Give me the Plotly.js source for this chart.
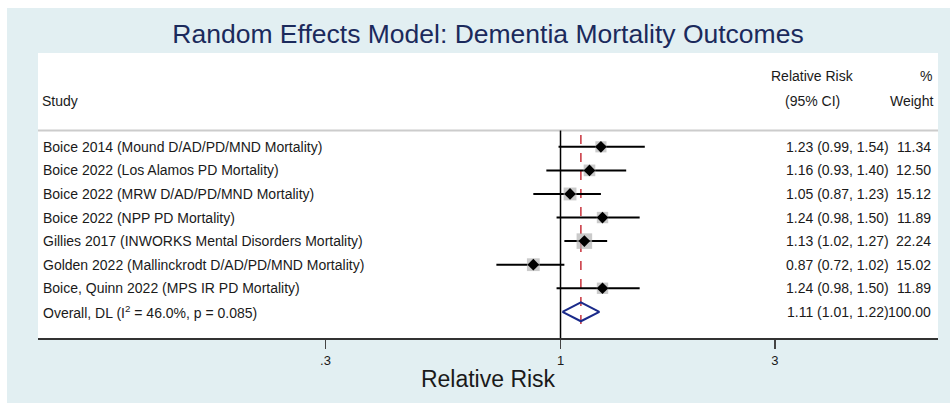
<!DOCTYPE html>
<html><head><meta charset="utf-8">
<script src="https://cdn.plot.ly/plotly-3.0.1.min.js"></script>
<style>
html,body{margin:0;padding:0;background:#ffffff;width:950px;height:403px;overflow:hidden}
#chart{position:absolute;left:7px;top:8px;width:943px;height:395px}
</style>
</head><body><div id="chart"></div>
<script>
// ---- data ----
const studies = [
  'Boice 2014 (Mound D/AD/PD/MND Mortality)',
  'Boice 2022 (Los Alamos PD Mortality)',
  'Boice 2022 (MRW D/AD/PD/MND Mortality)',
  'Boice 2022 (NPP PD Mortality)',
  'Gillies 2017 (INWORKS Mental Disorders Mortality)',
  'Golden 2022 (Mallinckrodt D/AD/PD/MND Mortality)',
  'Boice, Quinn 2022 (MPS IR PD Mortality)'
];
const rr     = [1.23, 1.16, 1.05, 1.24, 1.13, 0.87, 1.24];
const lower  = [0.99, 0.93, 0.87, 0.98, 1.02, 0.72, 0.98];
const upper  = [1.54, 1.40, 1.23, 1.50, 1.27, 1.02, 1.50];
const weights = [11.34, 12.50, 15.12, 11.89, 22.24, 15.02, 11.89];

const overallLabel = 'Overall, DL (I<sup>2</sup> = 46.0%, p = 0.085)';
const overallRR = [1.11];
const overallLower = [1.01];
const overallUpper = [1.22];
const overallWeight = [100.00];

const tickVals = [0.3, 1, 3];
const tickText = ['.3', '1', '3'];

const chartTitle = 'Random Effects Model: Dementia Mortality Outcomes';
const axisTitle = 'Relative Risk';
const headerStudy = 'Study';
const headerRR = ['Relative Risk', '(95% CI)'];
const headerW = ['%', 'Weight'];

// ---- layout helpers ----
const FONT = 'Liberation Sans, Arial, sans-serif';
const TXT = '#1a1a1a';
const rows = studies.map((_, i) => i + 1);
const oRow = studies.length + 1;
const fmt = v => v.toFixed(2);
const ciText = (m, l, u) => `${fmt(m)} (${fmt(l)}, ${fmt(u)})`;

// CI lines
const ciX = [], ciY = [];
rows.forEach((r, i) => { ciX.push(lower[i], upper[i], null); ciY.push(r, r, null); });

const traces = [
  { // overall dashed line
    x: [overallRR[0], overallRR[0]], y: [0.5, 8.75], mode: 'lines',
    line: { color: '#c8323c', width: 1.5, dash: 'dash' }, hoverinfo: 'skip'
  },
  {
    x: ciX, y: ciY, mode: 'lines', line: { color: '#000000', width: 2 }, hoverinfo: 'skip'
  },
  {
    x: rr, y: rows, mode: 'markers',
    marker: { symbol: 'square', color: '#b4b4b4', size: weights.map(w => 3.3 * Math.sqrt(w)), line: { width: 0 } }
  },
  {
    x: rr, y: rows, mode: 'markers',
    marker: { symbol: 'diamond', color: '#000000', size: 9, line: { width: 0 } }
  },
  {
    x: [overallLower[0], overallRR[0], overallUpper[0], overallRR[0], overallLower[0]],
    y: [oRow, oRow - 0.4, oRow, oRow + 0.4, oRow],
    mode: 'lines', line: { color: '#1a2a8a', width: 2 }, hoverinfo: 'skip'
  }
];

const ann = [];
const addText = (text, x, y, xanchor, size) => ann.push({
  text, x, y, xref: 'paper', yref: 'y', xanchor, yanchor: 'middle', showarrow: false,
  font: { family: FONT, size: size || 14, color: TXT }
});
rows.forEach((r, i) => {
  addText(studies[i], 0.003, r, 'left');
  addText(ciText(rr[i], lower[i], upper[i]), 0.948, r, 'right');
  addText(fmt(weights[i]), 0.9944, r, 'right');
});
addText(overallLabel, 0.003, oRow, 'left');
addText(ciText(overallRR[0], overallLower[0], overallUpper[0]), 0.948, oRow, 'right');
addText(fmt(overallWeight[0]), 0.9944, oRow, 'right');
addText(headerStudy, 0.002, -0.94, 'left');
addText(headerRR[0], 0.86, -2.0, 'center');
addText(headerRR[1], 0.86, -0.94, 'center');
addText(headerW[0], 0.987, -2.0, 'center');
addText(headerW[1], 0.9967, -0.94, 'right');

const layout = {
  width: 943, height: 395,
  margin: { l: 31, r: 12, t: 45, b: 65, pad: 0 },
  paper_bgcolor: '#e2eff2', plot_bgcolor: '#ffffff',
  showlegend: false,
  font: { family: FONT, color: TXT },
  title: {
    text: chartTitle, x: 0.5, xref: 'paper', xanchor: 'center',
    y: 0.935, yref: 'container', yanchor: 'middle',
    font: { family: FONT, size: 26.5, color: '#1b2a5c' }
  },
  xaxis: {
    type: 'log', range: [-1.1624, 0.8398], tickvals: tickVals, ticktext: tickText,
    ticks: 'outside', ticklen: 9, tickwidth: 1.5, tickcolor: '#444444',
    showline: true, linecolor: '#333333', linewidth: 2, showgrid: false, zeroline: false,
    tickfont: { family: FONT, size: 13, color: TXT },
    title: { text: axisTitle, font: { family: FONT, size: 23, color: TXT }, standoff: 4 },
    fixedrange: true
  },
  yaxis: {
    range: [9.11, -2.98], showgrid: false, zeroline: false, showticklabels: false,
    ticks: '', showline: false, fixedrange: true
  },
  shapes: [
    { type: 'line', xref: 'x', yref: 'y', x0: 1, x1: 1, y0: 0.31, y1: 9.11,
      line: { color: '#000000', width: 1.5 }, layer: 'below' },
    { type: 'line', xref: 'paper', yref: 'y', x0: 0, x1: 1, y0: 0.31, y1: 0.31,
      line: { color: '#cccccc', width: 2 }, layer: 'below' }
  ],
  annotations: ann
};

Plotly.newPlot('chart', traces, layout, { displayModeBar: false, staticPlot: true });
</script>
</body></html>
